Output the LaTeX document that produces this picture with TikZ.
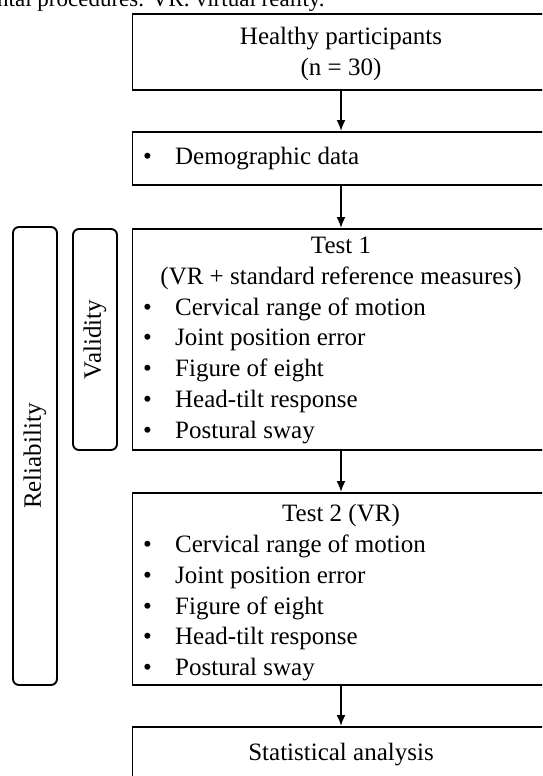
\documentclass[tikz,border=0pt]{standalone}
\usepackage{fontspec}
\setmainfont{Liberation Serif}
\usetikzlibrary{positioning,arrows.meta,calc}
\newcommand{\bul}[1]{\makebox[32pt][l]{\textbullet}#1}
\tikzset{block/.style={draw, line width=1.9pt, minimum width=417pt, inner sep=0pt},
    side/.style={draw, line width=1.9pt, rounded corners=6pt, minimum width=44pt, inner sep=0pt},
    txt/.style={anchor=base, inner sep=0pt, font=\fontsize{25}{30.8}\selectfont},
    item/.style={anchor=base west, inner sep=0pt, font=\fontsize{25}{30.8}\selectfont},
    captxt/.style={anchor=base west, inner sep=0pt, font=\fontsize{23}{28}\selectfont}
}

\begin{document}
\begin{tikzpicture}[x=1pt,y=-1pt,>={Latex[length=11pt,width=9pt]}]
		\useasboundingbox (0,0) rectangle (542,776);
		\clip (0,0) rectangle (542,776);

		\node[captxt] (capline) at (-3,6.5) {ntal procedures. VR: virtual reality.};

		\node[block, minimum height=76pt] (hp) at (341,52) {};
		\node[block, minimum height=53pt] (demo) at (341,158.5) {};
		\node[block, minimum height=221pt] (t1) at (341,339.5) {};
		\node[block, minimum height=192pt] (t2) at (341,589) {};
		\node[block, minimum height=60pt] (stat) at (341,757) {};
		\node[side, minimum height=458pt] (rel) at (35,456) {};
		\node[side, minimum height=221pt] (val) at (95,339.5) {};

		\node[txt] (hpa) at (341,45) {Healthy participants};
		\node[txt] (hpb) at (341,75.8) {(n = 30)};
		\node[item] (demoi) at (143,164) {\bul{Demographic data}};
		\node[txt] (t1a) at (341,253.5) {Test 1};
		\node[txt] (t1b) at (341,284.3) {(VR + standard reference measures)};
		\node[txt] (t2a) at (341,521.7) {Test 2 (VR)};
		\foreach \lbl [count=\i] in {Cervical range of motion, Joint position error, Figure of eight, Head-tilt response, Postural sway} {
			\node[item] (t1i\i) at (143,284.3+30.8*\i) {\bul{\lbl}};
			\node[item] (t2i\i) at (143,521.7+30.8*\i) {\bul{\lbl}};
		}
		\node[txt] (stata) at (341,760) {Statistical analysis};
		\node[txt, anchor=center, rotate=90] (rell) at (rel) {Reliability};
		\node[txt, anchor=center, rotate=90] (vall) at (val) {Validity};

		\draw [->, line width=1.9pt] (hp) -- (demo);
		\draw [->, line width=1.9pt] (demo) -- (t1);
		\draw [->, line width=1.9pt] (t1) -- (t2);
		\draw [->, line width=1.9pt] (t2) -- (stat);
	\end{tikzpicture}
\end{document}
